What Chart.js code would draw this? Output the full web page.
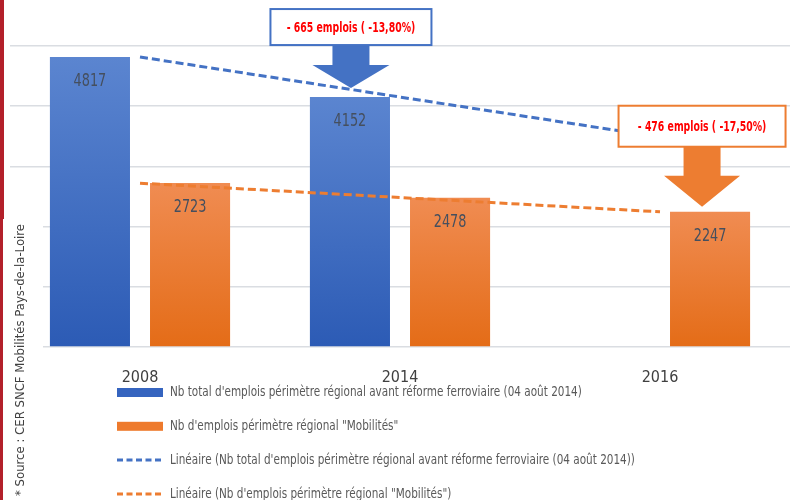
<!DOCTYPE html>
<html>
<head>
<meta charset="utf-8">
<script src="https://cdn.jsdelivr.net/npm/chart.js@4"></script>
<style>
  body { margin: 0; background: #fff; }
  #chart { display: block; }
</style>
</head>
<body>
<canvas id="chart" width="803" height="500"></canvas>
<script>
// Data
const categories = ['2008', '2014', '2016'];
const totalJobs = [4817, 4152, null];
const mobilitesJobs = [2723, 2478, 2247];
// Excel linear trendlines
const totalTrend = [4817, 4152, 3487];
const mobilitesTrend = [2721, 2483, 2245];
const yMax = 5000;
const yStep = 1000;

const seriesLabels = [
    "Nb total d'emplois périmètre régional avant réforme ferroviaire (04 août 2014)",
    'Nb d\'emplois périmètre régional "Mobilités"',
    "Linéaire (Nb total d'emplois périmètre régional avant réforme ferroviaire (04 août 2014))",
    'Linéaire (Nb d\'emplois périmètre régional "Mobilités")'
];
const callouts = [
    { dataset: 0, index: 1, text: '- 665 emplois ( -13,80%)' },
    { dataset: 1, index: 2, text: '- 476 emplois ( -17,50%)' }
];
const sourceText = '* Source : CER SNCF Mobilités Pays-de-la-Loire';

const BLUE = '#4472C4';
const ORANGE = '#ED7D31';
const FONT = '"DejaVu Sans Condensed", "DejaVu Sans", sans-serif';

function barGradient(c, top, bottom) {
    const chart = c.chart;
    const area = chart.chartArea;
    if (!area || c.raw == null) return bottom;
    const y = chart.scales.y.getPixelForValue(c.raw);
    const g = chart.ctx.createLinearGradient(0, y, 0, area.bottom);
    g.addColorStop(0, top);
    g.addColorStop(1, bottom);
    return g;
}

// text squeezed horizontally, to look like the narrow Office font
function narrowText(ctx, text, x, y, sx) {
    ctx.save();
    ctx.translate(x, y);
    ctx.scale(sx, 1);
    ctx.fillText(text, 0, 0);
    ctx.restore();
}

// Value labels inside the bars + callout boxes with arrows
const overlayPlugin = {
    id: 'overlay',
    afterDatasetsDraw(chart) {
        const ctx = chart.ctx;
        ctx.save();
        ctx.font = '17px ' + FONT;
        ctx.fillStyle = '#454F5E';
        ctx.textAlign = 'center';
        ctx.textBaseline = 'middle';
        [0, 1].forEach(di => {
            chart.getDatasetMeta(di).data.forEach((el, i) => {
                const v = chart.data.datasets[di].data[i];
                if (v == null) return;
                narrowText(ctx, String(v), el.x, el.y + 25, 0.84);
            });
        });

        // callouts
        const shapes = [
            { color: BLUE, dx: 1, gap: 9, headH: 23, headW: 77, shaftW: 37, shaftL: 20, boxW: 161, boxH: 36 },
            { color: ORANGE, dx: -8, gap: 5, headH: 31, headW: 76, shaftW: 37, shaftL: 29, boxW: 167, boxH: 41 }
        ];
        callouts.forEach((co, k) => {
            const s = shapes[k];
            const el = chart.getDatasetMeta(co.dataset).data[co.index];
            const tx = el.x + s.dx;
            const ty = el.y - s.gap;
            const headTop = ty - s.headH;
            const boxBottom = headTop - s.shaftL;
            const boxTop = boxBottom - s.boxH;

            ctx.fillStyle = s.color;
            ctx.beginPath();
            ctx.moveTo(tx - s.shaftW / 2, boxBottom);
            ctx.lineTo(tx + s.shaftW / 2, boxBottom);
            ctx.lineTo(tx + s.shaftW / 2, headTop);
            ctx.lineTo(tx + s.headW / 2, headTop);
            ctx.lineTo(tx, ty);
            ctx.lineTo(tx - s.headW / 2, headTop);
            ctx.lineTo(tx - s.shaftW / 2, headTop);
            ctx.closePath();
            ctx.fill();

            ctx.fillStyle = '#fff';
            ctx.fillRect(tx - s.boxW / 2, boxTop, s.boxW, s.boxH);
            ctx.strokeStyle = s.color;
            ctx.lineWidth = 2;
            ctx.strokeRect(tx - s.boxW / 2, boxTop, s.boxW, s.boxH);

            ctx.fillStyle = '#FF0000';
            ctx.font = 'bold 14px ' + FONT;
            narrowText(ctx, co.text, tx, boxTop + s.boxH / 2 + 1, 0.74);
        });
        ctx.restore();
    },
    afterDraw(chart) {
        const ctx = chart.ctx;
        ctx.save();
        // white panel behind the source note, red edge strip
        ctx.fillStyle = '#fff';
        ctx.fillRect(3, 219, 40, 281);
        ctx.fillStyle = '#B3202A';
        ctx.fillRect(0, 0, 4, 219);
        ctx.fillRect(0, 219, 3, 281);

        ctx.translate(21, 496);
        ctx.rotate(-Math.PI / 2);
        ctx.font = '13px ' + FONT;
        ctx.fillStyle = '#404040';
        ctx.textAlign = 'left';
        ctx.textBaseline = 'middle';
        ctx.fillText(sourceText, 0, 0);
        ctx.setTransform(1, 0, 0, 1, 0, 0);

        // legend
        ctx.font = '14px ' + FONT;
        ctx.textAlign = 'left';
        ctx.textBaseline = 'middle';
        chart.data.datasets.forEach((ds, i) => {
            const y = 392.5 + i * 33.8;
            if (ds.type === 'line') {
                ctx.strokeStyle = ds.borderColor;
                ctx.lineWidth = 3;
                ctx.setLineDash([6, 3.5]);
                ctx.beginPath();
                ctx.moveTo(117, y);
                ctx.lineTo(163, y);
                ctx.stroke();
                ctx.setLineDash([]);
            } else {
                ctx.fillStyle = ds.legendColor;
                ctx.fillRect(117, y - 4.5, 46, 9);
            }
            ctx.fillStyle = '#595959';
            narrowText(ctx, ds.label, 170, y, 0.83);
        });
        ctx.restore();
    }
};

const chart = new Chart(document.getElementById('chart'), {
    type: 'bar',
    data: {
        labels: categories,
        datasets: [
            {
                label: seriesLabels[0],
                data: totalJobs,
                backgroundColor: c => barGradient(c, '#5B85D0', '#2C5BB5'),
                legendColor: '#3564BF',
                categoryPercentage: 0.77,
                barPercentage: 0.8,
                order: 2
            },
            {
                label: seriesLabels[1],
                data: mobilitesJobs,
                backgroundColor: c => barGradient(c, '#F08C52', '#E46C17'),
                legendColor: '#EE7A2C',
                categoryPercentage: 0.77,
                barPercentage: 0.8,
                order: 2
            },
            {
                type: 'line',
                label: seriesLabels[2],
                data: totalTrend,
                borderColor: BLUE,
                borderWidth: 3,
                borderDash: [8, 4],
                pointRadius: 0,
                fill: false,
                order: 1
            },
            {
                type: 'line',
                label: seriesLabels[3],
                data: mobilitesTrend,
                borderColor: ORANGE,
                borderWidth: 3,
                borderDash: [8, 4],
                pointRadius: 0,
                fill: false,
                order: 1
            }
        ]
    },
    options: {
        responsive: false,
        animation: false,
        layout: { padding: { left: 10, right: 13, top: 46, bottom: 108 } },
        plugins: {
            legend: { display: false },
            tooltip: { enabled: false }
        },
        scales: {
            x: {
                grid: { display: false, drawTicks: false },
                border: { display: false },
                ticks: { color: '#404040', font: { size: 16, family: FONT }, padding: 21 },
                afterFit: s => { s.height = 45; }
            },
            y: {
                min: 0,
                max: yMax,
                ticks: { display: false, stepSize: yStep },
                grid: { color: '#DADDE2', lineWidth: 1.5, drawTicks: false },
                border: { display: false },
                afterFit: s => { s.width = 0; }
            }
        }
    },
    plugins: [overlayPlugin]
});
</script>
</body>
</html>
